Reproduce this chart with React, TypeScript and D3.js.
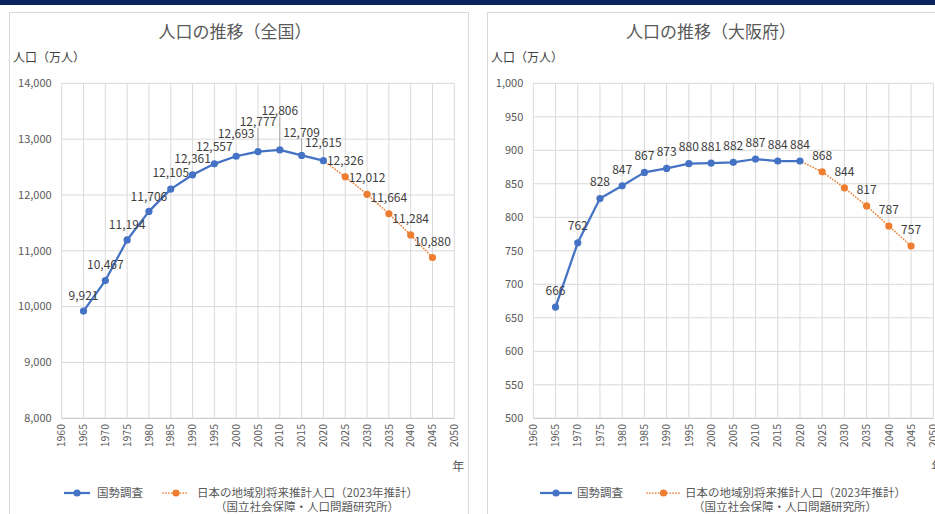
import React from "react";
import * as d3 from "d3";

const xTickLabels = ["1960","1965","1970","1975","1980","1985","1990","1995","2000","2005","2010","2015","2020","2025","2030","2035","2040","2045","2050"];
const censusYears = [1965,1970,1975,1980,1985,1990,1995,2000,2005,2010,2015,2020];
const projYears = [2025,2030,2035,2040,2045];
const japanCensus = [9921,10467,11194,11706,12105,12361,12557,12693,12777,12806,12709,12615];
const japanProj = [12326,12012,11664,11284,10880];
const japanYTicks = [8000,9000,10000,11000,12000,13000,14000];
const osakaCensus = [666,762,828,847,867,873,880,881,882,887,884,884];
const osakaProj = [868,844,817,787,757];
const osakaYTicks = [500,550,600,650,700,750,800,850,900,950,1000];
const titles = ["人口の推移（全国）", "人口の推移（大阪府）"];
const unitLabel = "人口（万人）";
const xAxisLabel = "年";
const legendCensus = "国勢調査";
const legendProj1 = "日本の地域別将来推計人口（2023年推計）";
const legendProj2 = "（国立社会保障・人口問題研究所）";

// layout (not data): label raise above the point, per census point
const japanCensusRaise = [15, 16, 15, 15, 16, 16, 17, 22, 29.5, 39, 23, 17.6];
const japanLeader = [false, false, false, false, false, false, false, false, true, true, true, true];

const FONT = "'Noto Sans CJK JP', 'Noto Sans', sans-serif";
const BLUE = "#4472c4";
const ORANGE = "#ed7d31";
const fmt = d3.format(",");

type PanelProps = {
  title: string;
  census: number[];
  proj: number[];
  yTicks: number[];
  px0: number; px1: number;
  panelX: number; panelW: number;
  titleX: number; unitX: number;
  censusRaise?: number[];
  leader?: boolean[];
  leg: { b0: number; b1: number; bt: number; o0: number; o1: number; ot: number; ot2: number };
};

function Panel(p: PanelProps) {
  const yMin = p.yTicks[0], yMax = p.yTicks[p.yTicks.length - 1];
  const x = d3.scaleLinear().domain([1960, 2050]).range([p.px0, p.px1]);
  const y = d3.scaleLinear().domain([yMin, yMax]).range([418.3, 83.3]);
  const cPts = censusYears.map((yr, i) => [x(yr), y(p.census[i])] as [number, number]);
  const pPts = projYears.map((yr, i) => [x(yr), y(p.proj[i])] as [number, number]);
  const line = d3.line<[number, number]>();
  const projLine = line([cPts[cPts.length - 1], ...pPts]) || "";
  return (
    <g>
      <rect x={p.panelX} y={12.5} width={p.panelW} height={520} fill="#fff" stroke="#d9d9d9" />
      <text x={p.titleX} y={38} textAnchor="middle" fontSize={17} fill="#595959" fontFamily={FONT}>{p.title}</text>
      <text x={p.unitX} y={62} fontSize={12} fill="#404040" fontFamily={FONT}>{unitLabel}</text>
      {p.yTicks.map((t) => (
        <g key={"y" + t}>
          <line x1={p.px0} x2={p.px1} y1={y(t)} y2={y(t)} stroke={t === yMin ? "#bfbfbf" : "#d9d9d9"} strokeWidth={1} />
          <text x={p.px0 - 10} y={y(t)} dy="0.35em" textAnchor="end" fontSize={11} fill="#595959" fontFamily={FONT}>{fmt(t)}</text>
        </g>
      ))}
      {xTickLabels.map((lab) => {
        const xx = x(+lab);
        return (
          <g key={"x" + lab}>
            <line x1={xx} x2={xx} y1={83.3} y2={418.3} stroke="#d9d9d9" strokeWidth={1} />
            <text transform={`translate(${xx},${424}) rotate(-90)`} textAnchor="end" dy="0.35em" fontSize={10.5} fill="#595959" fontFamily={FONT}>{lab}</text>
          </g>
        );
      })}
      <text x={p.px1 + 4} y={471} textAnchor="middle" fontSize={12} fill="#595959" fontFamily={FONT}>{xAxisLabel}</text>
      {p.leader && cPts.map(([cx, cy], i) => p.leader![i] ? (
        <line key={"ld" + i} x1={cx} x2={cx} y1={cy - (p.censusRaise ? p.censusRaise[i] : 16.5) + 6} y2={cy - 4} stroke="#a6a6a6" strokeWidth={1} />
      ) : null)}
      <path d={projLine} fill="none" stroke={ORANGE} strokeWidth={1.7} strokeDasharray="0.1 2.8" strokeLinecap="round" />
      <path d={line(cPts) || ""} fill="none" stroke={BLUE} strokeWidth={2.25} strokeLinejoin="round" />
      {cPts.map(([cx, cy], i) => <circle key={"c" + i} cx={cx} cy={cy} r={3.6} fill={BLUE} />)}
      {pPts.map(([cx, cy], i) => <circle key={"p" + i} cx={cx} cy={cy} r={3.6} fill={ORANGE} />)}
      {cPts.map(([cx, cy], i) => (
        <text key={"cl" + i} x={cx} y={cy - (p.censusRaise ? p.censusRaise[i] : 16.5)} dy="0.35em" textAnchor="middle" fontSize={12} fill="#404040" fontFamily={FONT}>{fmt(p.census[i])}</text>
      ))}
      {pPts.map(([cx, cy], i) => (
        <text key={"pl" + i} x={cx} y={cy - 16} dy="0.35em" textAnchor="middle" fontSize={12} fill="#404040" fontFamily={FONT}>{fmt(p.proj[i])}</text>
      ))}
      <line x1={p.leg.b0} x2={p.leg.b1} y1={493} y2={493} stroke={BLUE} strokeWidth={2.25} />
      <circle cx={(p.leg.b0 + p.leg.b1) / 2} cy={493} r={3.6} fill={BLUE} />
      <text x={p.leg.bt} y={497} fontSize={11.5} fill="#595959" fontFamily={FONT}>{legendCensus}</text>
      <line x1={p.leg.o0} x2={p.leg.o1} y1={493} y2={493} stroke={ORANGE} strokeWidth={1.7} strokeDasharray="0.1 2.8" strokeLinecap="round" />
      <circle cx={(p.leg.o0 + p.leg.o1) / 2} cy={493} r={3.6} fill={ORANGE} />
      <text x={p.leg.ot} y={497} fontSize={11.5} fill="#595959" fontFamily={FONT}>{legendProj1}</text>
      <text x={p.leg.ot2} y={510.5} fontSize={11.5} fill="#595959" fontFamily={FONT}>{legendProj2}</text>
    </g>
  );
}

export default function App() {
  return (
    <svg width={935} height={514} style={{ position: "absolute", left: 0, top: 0, background: "#fff" }}>
      <rect x={0} y={0} width={935} height={514} fill="#fff" />
      <Panel title={titles[0]} census={japanCensus} proj={japanProj} yTicks={japanYTicks}
        px0={61.7} px1={454.3} panelX={9.5} panelW={459} titleX={235} unitX={13}
        censusRaise={japanCensusRaise} leader={japanLeader}
        leg={{ b0: 64, b1: 90, bt: 97, o0: 163, o1: 189, ot: 197, ot2: 215 }} />
      <Panel title={titles[1]} census={osakaCensus} proj={osakaProj} yTicks={osakaYTicks}
        px0={533.3} px1={933.3} panelX={487.5} panelW={500} titleX={711} unitX={491}
        leg={{ b0: 540, b1: 572, bt: 577, o0: 647, o1: 680, ot: 685, ot2: 693 }} />
      <rect x={0} y={0} width={935} height={5} fill="#0b2260" />
    </svg>
  );
}
